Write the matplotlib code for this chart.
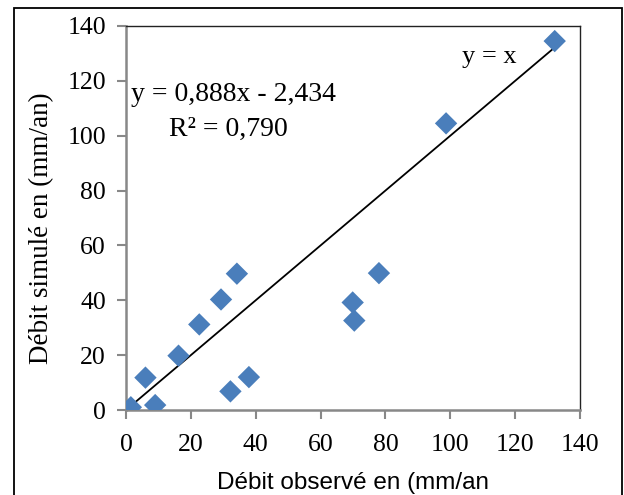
import matplotlib
matplotlib.use("Agg")
import matplotlib.pyplot as plt
from matplotlib.patches import Rectangle

# Observed vs simulated annual discharge (mm/an)
observed = [1.5, 6.0, 9.0, 16.2, 22.6, 29.3, 34.2, 32.2, 37.9, 69.9, 70.4, 78.0, 98.7, 132.2]
simulated = [1.0, 11.8, 1.8, 19.8, 31.2, 40.3, 49.7, 6.8, 12.0, 39.2, 32.6, 49.9, 104.5, 134.5]
ticks = [0, 20, 40, 60, 80, 100, 120, 140]

serif = "Liberation Serif"
fig = plt.figure(figsize=(6.24, 4.95), dpi=100)
ax = fig.add_axes([0.2019, 0.1717, 0.7276, 0.7758])

# 1:1 reference line
xmax = max(observed)
ax.plot([0, xmax], [0, xmax], color="black", lw=1.3, zorder=2)
ax.scatter(observed, simulated, marker="D", s=130, color="#4A7EBB",
           edgecolors="none", zorder=3)

ax.set_xlim(0, 140)
ax.set_ylim(0, 140)
ax.set_xticks(ticks)
ax.set_yticks(ticks)
ax.set_xticklabels([str(t) for t in ticks], fontfamily=serif, fontsize=18.5)
ax.set_yticklabels([str(t) for t in ticks], fontfamily=serif, fontsize=18.5)
ax.tick_params(direction="out", length=6.5, width=1.5, color="#888888")
ax.tick_params(axis="y", pad=8)
ax.tick_params(axis="x", pad=11)

for side in ("left", "bottom"):
    ax.spines[side].set_color("#888888")
    ax.spines[side].set_linewidth(1.8)
for side in ("top", "right"):
    ax.spines[side].set_color("#222222")
    ax.spines[side].set_linewidth(1.0)

fig.text(42 / 624, 1 - 228 / 495, "Débit simulé en (mm/an)", fontfamily=serif,
         fontsize=19.5, rotation=90, ha="center", va="center")
ax.set_xlabel("Débit observé en (mm/an", fontfamily="Liberation Sans", fontsize=17.5, labelpad=11)

ax.text(1.6, 112.5, "y = 0,888x - 2,434", fontfamily=serif, fontsize=20, va="baseline")
ax.text(13.4, 99.8, "R² = 0,790", fontfamily=serif, fontsize=20, va="baseline")
ax.text(103.6, 126.5, "y = x", fontfamily=serif, fontsize=19, va="baseline")

# Outer frame around the whole chart
fig.patches.append(Rectangle((14 / 624, -0.05), (622 - 14) / 624, 1.05 - 8 / 495,
                             transform=fig.transFigure, fill=False,
                             edgecolor="black", lw=1.3))

fig.savefig("out.png", dpi=100)
